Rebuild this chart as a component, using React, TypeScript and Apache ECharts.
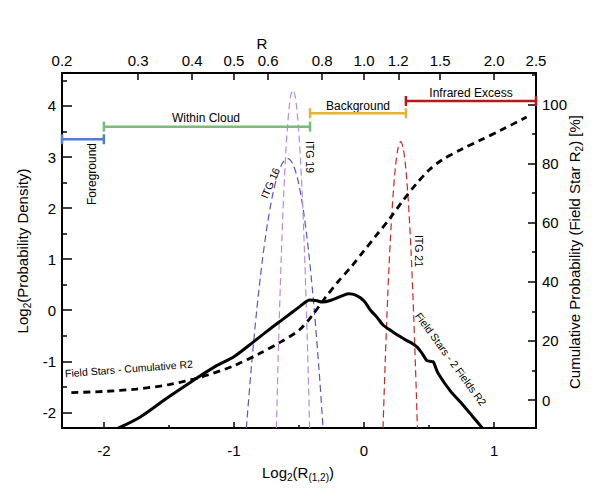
import React, { useEffect, useRef } from 'react';
import * as echarts from 'echarts';

const FONT = '"Liberation Sans", Arial, Helvetica, sans-serif';

// axis extents (bottom axis is log2 of the top axis R)
const rMin = 0.2;
const rMax = 2.5;
const leftMin = -2.307;
const leftMax = 4.646;
const rightMin = -9.47;
const rightMax = 110.6;

// top axis tick labels (R)
const topTickLabels = ['0.2', '0.3', '0.4', '0.5', '0.6', '0.8', '1.0', '1.2', '1.5', '2.0', '2.5'];

// Field Stars - 2 Fields R2 (log2 probability density, left axis)
const fieldX = [-1.89, -1.72, -1.52, -1.31, -1.13, -1.0, -0.85, -0.74, -0.62, -0.5, -0.45, -0.418, -0.37, -0.32, -0.26, -0.18, -0.12, -0.06, 0.0, 0.05, 0.1, 0.146, 0.19, 0.224, 0.28, 0.326, 0.37, 0.408, 0.45, 0.48, 0.505, 0.531, 0.55, 0.57, 0.66, 0.762, 0.838, 0.91];
const fieldY = [-2.31, -2.09, -1.73, -1.37, -1.08, -0.91, -0.62, -0.4, -0.17, 0.06, 0.16, 0.2, 0.19, 0.16, 0.19, 0.27, 0.32, 0.29, 0.18, 0.0, -0.14, -0.29, -0.37, -0.43, -0.52, -0.59, -0.65, -0.72, -0.86, -0.98, -1.0, -1.01, -1.12, -1.24, -1.57, -1.86, -2.09, -2.31];

// Field Stars - Cumulative R2 (percent, right axis)
const cumX = [-2.25, -2.0, -1.75, -1.5, -1.25, -1.0, -0.8, -0.65, -0.5, -0.4, -0.3, -0.2, -0.1, 0.0, 0.1, 0.2, 0.3, 0.4, 0.5, 0.6, 0.75, 0.9, 1.05, 1.25];
const cumY = [2.5, 2.9, 3.7, 5.2, 7.8, 11.6, 15.8, 19.4, 23.6, 28.5, 34.5, 40, 45, 50.5, 56, 61.5, 67.5, 73, 77.8, 81.2, 84.8, 88, 91.2, 95.7];

// ITG 16
const itg16X = [-0.905, -0.865, -0.825, -0.785, -0.745, -0.705, -0.665, -0.625, -0.585, -0.545, -0.505, -0.465, -0.425, -0.385, -0.345, -0.315];
const itg16Y = [-2.31, -1.08, 0.0, 0.91, 1.65, 2.23, 2.64, 2.89, 2.97, 2.85, 2.51, 1.93, 1.12, 0.07, -1.2, -2.31];
// ITG 19
const itg19X = [-0.674, -0.657, -0.637, -0.617, -0.597, -0.577, -0.562, -0.547, -0.532, -0.517, -0.497, -0.477, -0.457, -0.437, -0.418];
const itg19Y = [-2.31, -0.65, 0.99, 2.3, 3.28, 3.94, 4.22, 4.31, 4.22, 3.95, 3.32, 2.36, 1.09, -0.51, -2.31];
// ITG 21
const itg21X = [0.146, 0.162, 0.182, 0.202, 0.222, 0.242, 0.262, 0.282, 0.302, 0.322, 0.342, 0.362, 0.382, 0.402, 0.41];
const itg21Y = [-2.31, -1.06, 0.27, 1.36, 2.21, 2.82, 3.18, 3.3, 3.16, 2.75, 2.07, 1.11, -0.12, -1.62, -2.31];

// region bars
const rangeNames = ['Foreground', 'Within Cloud', 'Background', 'Infrared Excess'];
const rangeStartR = [0.2, 0.25, 0.75, 1.25];
const rangeEndR = [0.25, 0.75, 1.25, 2.5];
const rangeLevel = [3.348, 3.595, 3.857, 4.098];
const rangeColors = ['#4f7fce', '#78bd74', '#e2b43c', '#b5191c'];

const zip = (xs: number[], ys: number[]) => xs.map((x, i) => [x, ys[i]]);

const axisLineStyle = { color: '#000', width: 2 };
const tickStyle = { color: '#000', width: 1.5 };

function txt(text: string, x: number, y: number, size: number, rotation = 0) {
  return {
    type: 'text',
    x,
    y,
    rotation,
    silent: true,
    style: { text, fontSize: size, fontFamily: FONT, fill: '#000', align: 'center', verticalAlign: 'middle' },
  };
}

function richTxt(text: string, x: number, y: number, rotation = 0) {
  return {
    type: 'text',
    x,
    y,
    rotation,
    silent: true,
    style: {
      text,
      fontFamily: FONT,
      fontSize: 15,
      fill: '#000',
      align: 'center',
      verticalAlign: 'middle',
      rich: {
        m: { fontSize: 15, lineHeight: 20, fontFamily: FONT, fill: '#000' },
        s: { fontSize: 10, lineHeight: 10, fontFamily: FONT, fill: '#000', verticalAlign: 'bottom' },
      },
    },
  };
}

export default function App() {
  const ref = useRef<HTMLDivElement>(null);
  useEffect(() => {
    if (!ref.current) return;
    const chart = echarts.init(ref.current, undefined, { renderer: 'svg' });
    const xMin = Math.log2(rMin);
    const xMax = Math.log2(rMax);
    const topTickPos = topTickLabels.map((s) => Math.log2(parseFloat(s)));

    const dashedLine = (name: string, data: number[][], color: string) => ({
      name,
      type: 'line',
      xAxisIndex: 0,
      yAxisIndex: 0,
      data,
      symbol: 'none',
      smooth: 0.3,
      silent: true,
      lineStyle: { color, width: 1.2, type: [7, 4] },
      z: 3,
    });

    chart.setOption({
      animation: false,
      backgroundColor: '#fff',
      grid: { left: 62, right: 62, top: 73, bottom: 66, containLabel: false },
      xAxis: [
        {
          type: 'value',
          position: 'bottom',
          min: xMin,
          max: xMax,
          minInterval: 1,
          maxInterval: 1,
          axisLine: { show: true, onZero: false, lineStyle: axisLineStyle },
          axisTick: { show: true, inside: true, length: 6, lineStyle: tickStyle },
          minorTick: { show: true, splitNumber: 2, length: 3, lineStyle: tickStyle },
          axisLabel: { showMinLabel: false, showMaxLabel: false, margin: 15, fontSize: 15, color: '#000', fontFamily: FONT },
          splitLine: { show: false },
        },
        {
          type: 'value',
          position: 'top',
          min: xMin,
          max: xMax,
          axisLine: { show: true, onZero: false, lineStyle: axisLineStyle },
          axisTick: { show: true, inside: true, length: 7, lineStyle: tickStyle, customValues: topTickPos },
          axisLabel: {
            customValues: topTickPos,
            showMinLabel: true,
            showMaxLabel: true,
            margin: 5,
            fontSize: 15,
            color: '#000',
            fontFamily: FONT,
            formatter: (v: number) => {
              let best = 0;
              topTickPos.forEach((p, i) => {
                if (Math.abs(p - v) < Math.abs(topTickPos[best] - v)) best = i;
              });
              return topTickLabels[best];
            },
          },
          splitLine: { show: false },
        },
      ],
      yAxis: [
        {
          type: 'value',
          position: 'left',
          min: leftMin,
          max: leftMax,
          minInterval: 1,
          maxInterval: 1,
          axisLine: { show: true, onZero: false, lineStyle: axisLineStyle },
          axisTick: { show: true, inside: true, length: 10, lineStyle: tickStyle },
          minorTick: { show: true, splitNumber: 2, length: 5, lineStyle: tickStyle },
          axisLabel: { showMinLabel: false, showMaxLabel: false, margin: 6, fontSize: 15, color: '#000', fontFamily: FONT },
          splitLine: { show: false },
        },
        {
          type: 'value',
          position: 'right',
          min: rightMin,
          max: rightMax,
          minInterval: 20,
          maxInterval: 20,
          axisLine: { show: true, onZero: false, lineStyle: axisLineStyle },
          axisTick: { show: true, inside: true, length: 8, lineStyle: tickStyle },
          minorTick: { show: true, splitNumber: 2, length: 4, lineStyle: tickStyle },
          axisLabel: { showMinLabel: false, showMaxLabel: false, margin: 6, fontSize: 15, color: '#000', fontFamily: FONT },
          splitLine: { show: false },
        },
      ],
      series: [
        dashedLine('ITG 16', zip(itg16X, itg16Y), '#5a55c8'),
        dashedLine('ITG 19', zip(itg19X, itg19Y), '#b58be0'),
        dashedLine('ITG 21', zip(itg21X, itg21Y), '#c8282a'),
        {
          name: 'Field Stars - 2 Fields R2',
          type: 'line',
          xAxisIndex: 0,
          yAxisIndex: 0,
          data: zip(fieldX, fieldY),
          symbol: 'none',
          smooth: 0.3,
          silent: true,
          lineStyle: { color: '#000', width: 3 },
          z: 4,
        },
        {
          name: 'Field Stars - Cumulative R2',
          type: 'line',
          xAxisIndex: 0,
          yAxisIndex: 1,
          data: zip(cumX, cumY),
          symbol: 'none',
          smooth: 0.3,
          silent: true,
          lineStyle: { color: '#000', width: 2.8, type: [7, 5] },
          z: 4,
        },
        {
          name: 'ranges',
          type: 'custom',
          xAxisIndex: 0,
          yAxisIndex: 0,
          silent: true,
          z: 5,
          data: rangeNames.map((_, i) => [Math.log2(rangeStartR[i]), Math.log2(rangeEndR[i]), rangeLevel[i], i]),
          encode: { x: [0, 1], y: 2 },
          renderItem: (_params: any, api: any) => {
            const a = api.coord([api.value(0), api.value(2)]);
            const b = api.coord([api.value(1), api.value(2)]);
            const color = rangeColors[api.value(3)];
            const style = { stroke: color, lineWidth: 2.5 };
            return {
              type: 'group',
              children: [
                { type: 'line', shape: { x1: a[0], y1: a[1], x2: b[0], y2: b[1] }, style },
                { type: 'line', shape: { x1: a[0], y1: a[1] - 5, x2: a[0], y2: a[1] + 5 }, style },
                { type: 'line', shape: { x1: b[0], y1: b[1] - 5, x2: b[0], y2: b[1] + 5 }, style },
              ],
            };
          },
        },
      ],
      graphic: [
        txt('R', 262, 43, 15),
        richTxt('{m|Log}{s|2}{m|(R}{s|(1,2)}{m|)}', 298, 472),
        richTxt('{m|Log}{s|2}{m|(Probability Density)}', 22, 251, Math.PI / 2),
        richTxt('{m|Cumulative Probability (Field Star R}{s|2}{m|) [%]}', 574, 252, Math.PI / 2),
        txt(rangeNames[0], 92, 174, 12, Math.PI / 2),
        txt(rangeNames[1], 206, 118, 12),
        txt(rangeNames[2], 358, 106, 12),
        txt(rangeNames[3], 471, 93, 12),
        txt('ITG 16', 270, 183, 10.5, 1.16),
        txt('ITG 19', 310, 157, 10.5, -Math.PI / 2),
        txt('ITG 21', 419, 251, 10.5, -Math.PI / 2),
        txt('Field Stars - Cumulative R2', 129, 369, 10.5, 0.075),
        txt('Field Stars - 2 Fields R2', 451, 359, 10.5, -0.94),
      ],
    });
    return () => chart.dispose();
  }, []);
  return (
    <div
      ref={ref}
      style={{ position: 'fixed', left: 0, top: 0, width: 598, height: 494, background: '#fff' }}
    />
  );
}
